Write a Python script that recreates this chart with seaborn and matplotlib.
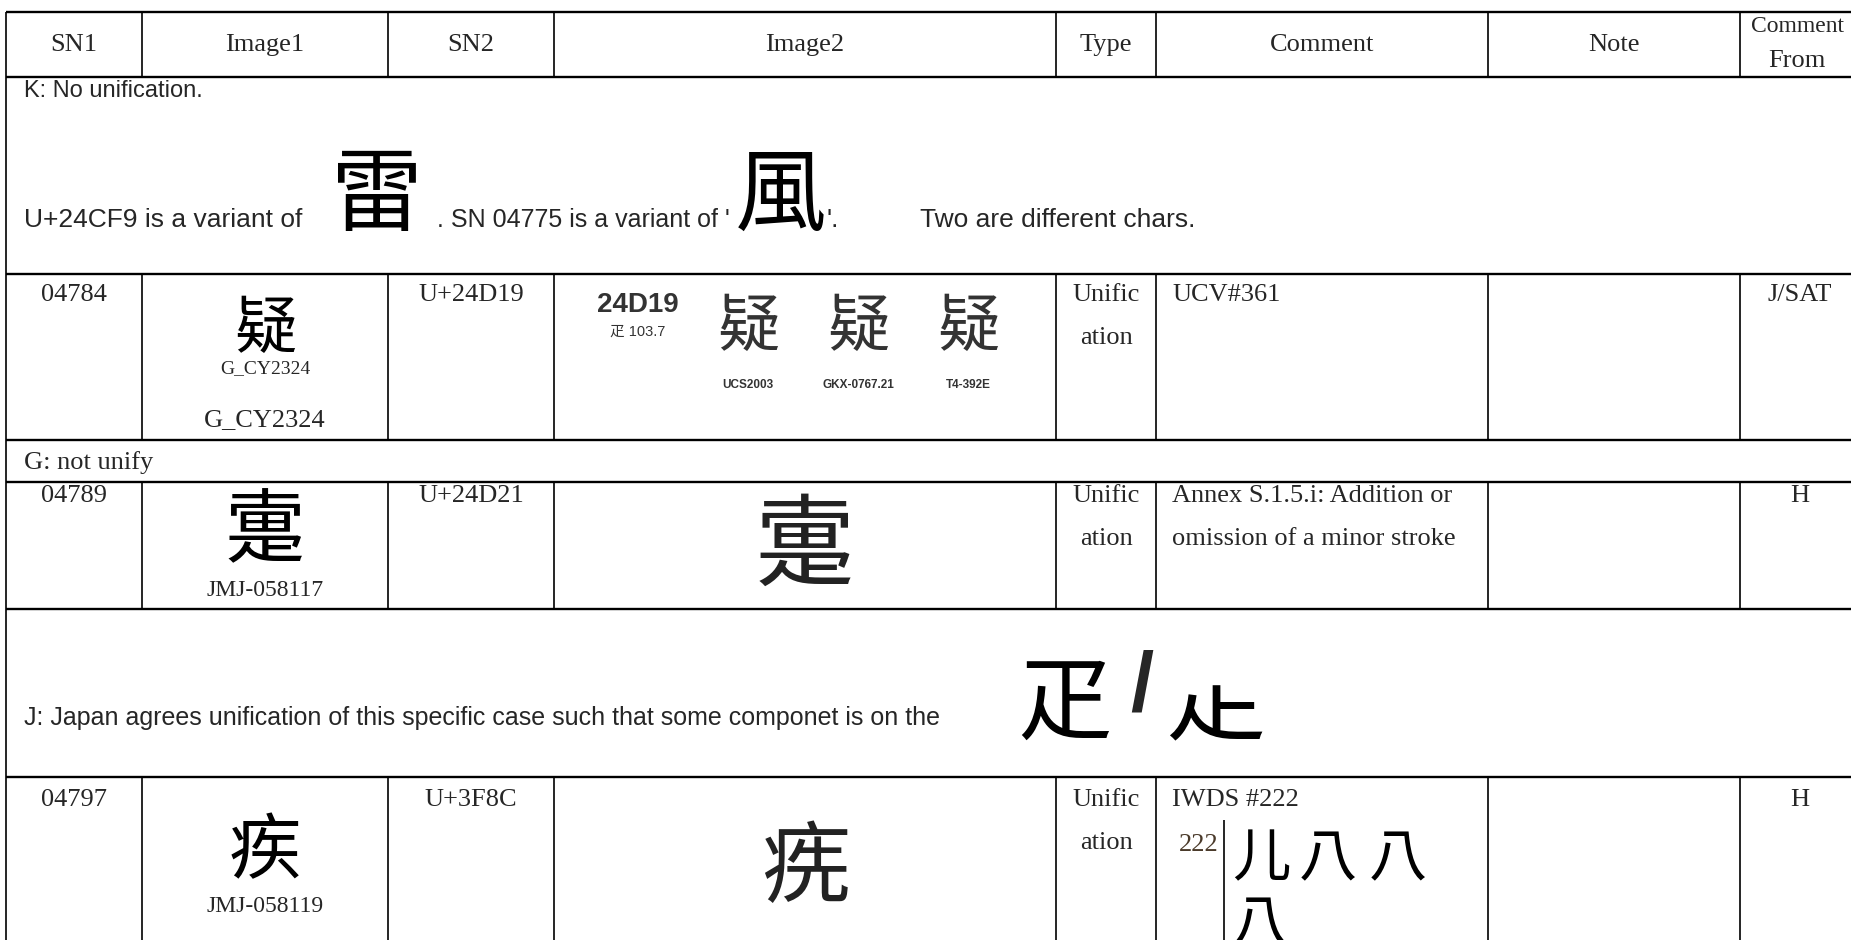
import matplotlib
matplotlib.use("Agg")
import matplotlib.pyplot as plt
import seaborn as sns
from matplotlib import font_manager, ft2font

sns.set_theme(style="white")
plt.rcParams['font.family'] = ['Liberation Serif', 'Noto Sans CJK JP', 'DejaVu Sans']

SERIF = ['Liberation Serif', 'Noto Sans CJK JP', 'DejaVu Sans']
SANS = ['Liberation Sans', 'Noto Sans CJK JP', 'DejaVu Sans']
CJK_FAMILIES = ['Noto Sans CJK TC', 'Noto Sans CJK JP', 'Noto Sans CJK SC', 'Noto Sans CJK KR']

# table content
headers = ["SN1", "Image1", "SN2", "Image2", "Type", "Comment", "Note"]
header_last = ["Comment", "From"]
sn1 = ["04784", "04789", "04797"]
sn2 = ["U+24D19", "U+24D21", "U+3F8C"]
img1_labels = ["G_CY2324", "JMJ-058117", "JMJ-058119"]
type_lines = ["Unific", "ation"]
comments = [["UCV#361"],
            ["Annex S.1.5.i: Addition or", "omission of a minor stroke"],
            ["IWDS #222"]]
comment_from = ["J/SAT", "H", "H"]
note_k = "K: No unification."
note_k2 = ["U+24CF9 is a variant of", ". SN 04775 is a variant of '", "'.", "Two are different chars."]
note_g = "G: not unify"
note_j = "J: Japan agrees unification of this specific case such that some componet is on the"
ucs_sources = ["UCS2003", "GKX-0767.21", "T4-392E"]
ucs_code = "24D19"
ucs_radical = "\u758b 103.7"
iwds_no = "222"
iwds_glyphs = ["\u513f", "\u516b", "\u516b", "\u516b"]

# layout (pixels)
col_edges = [6, 142, 388, 554, 1056, 1156, 1488, 1740]
row_edges = [12, 77, 274, 440, 482, 609, 777]
data_rows = [(12, 77), (274, 440), (482, 609), (777, 960)]


def pick(*cands):
    """first candidate char that a CJK font really has"""
    for ch in cands:
        for fam in CJK_FAMILIES:
            try:
                path = font_manager.findfont(font_manager.FontProperties(family=fam),
                                             fallback_to_default=False)
                if ord(ch) in ft2font.FT2Font(path).get_charmap():
                    return ch, fam
            except Exception:
                continue
    return cands[-1], CJK_FAMILIES[0]


g_lei = pick("\u96f7")
g_feng = pick("\u98a8")
g_24d19 = pick("\U00024D19", "\u7591")
g_zhi1 = pick("\u7590")
g_24d21 = pick("\U00024D21", "\u7590")
g_ji = pick("\u75be")
g_3f8c = pick("\u3f8c", "\u75be")
g_pi = pick("\u758b")
g_pi2 = pick("\u9fb0", "\u2eaa", "\u758b")

fig = plt.figure(figsize=(18.51, 9.40), dpi=100)
ax = fig.add_axes([0, 0, 1, 1])
ax.set_xlim(0, 1851)
ax.set_ylim(940, 0)
ax.axis("off")

# grid lines
for y in row_edges:
    ax.hlines(y, 6, 1860, color="black", lw=1.7)
ax.vlines(6, 12, 960, color="black", lw=1.2)
for top, bot in data_rows:
    for x in col_edges[1:]:
        ax.vlines(x, top, bot, color="black", lw=1.2)


def cjk(x, y, g, size, color="black"):
    ax.text(x, y, g[0], fontsize=size, family=[g[1], 'DejaVu Sans'],
            ha="center", va="center", color=color)


# header
centers = [(col_edges[i] + col_edges[i + 1]) / 2 for i in range(len(col_edges) - 1)]
for cx, h in zip(centers, headers):
    ax.text(cx, 45, h, fontsize=19, family=SERIF, ha="center", va="center")
ax.text(1797, 27, header_last[0], fontsize=17, family=SERIF, ha="center", va="center")
ax.text(1797, 61, header_last[1], fontsize=19, family=SERIF, ha="center", va="center")

# K note row
ax.text(24, 91, note_k, fontsize=17, family=SANS, ha="left", va="center")
ax.text(24, 220, note_k2[0], fontsize=19, family=SANS, ha="left", va="center")
cjk(377, 198, g_lei, 66)
ax.text(437, 220, note_k2[1], fontsize=18, family=SANS, ha="left", va="center")
cjk(781, 198, g_feng, 66)
ax.text(826, 220, note_k2[2], fontsize=19, family=SANS, ha="left", va="center")
ax.text(920, 220, note_k2[3], fontsize=19, family=SANS, ha="left", va="center")

# data rows
row_tops = [295, 496, 800]
for i, yt in enumerate(row_tops):
    ax.text(centers[0], yt, sn1[i], fontsize=19, family=SERIF, ha="center", va="center")
    ax.text(centers[2], yt, sn2[i], fontsize=19, family=SERIF, ha="center", va="center")
    ax.text(centers[4], yt, type_lines[0], fontsize=19, family=SERIF, ha="center", va="center")
    ax.text(centers[4], yt + 43, type_lines[1], fontsize=19, family=SERIF, ha="center", va="center")
    for j, line in enumerate(comments[i]):
        ax.text(1172, yt + 43 * j, line, fontsize=19, family=SERIF, ha="left", va="center")
    ax.text(1800, yt, comment_from[i], fontsize=19, family=SERIF, ha="center", va="center")

# row 04784 images
cjk(centers[1], 330, g_24d19, 45)
ax.text(centers[1], 369, img1_labels[0], fontsize=14, family=SERIF, ha="center", va="center")
ax.text(centers[1], 420, img1_labels[0], fontsize=19, family=SERIF, ha="center", va="center")
ax.text(638, 305, ucs_code, fontsize=20, family=SANS, weight="bold", color="#333333",
        ha="center", va="center")
ax.text(638, 332, ucs_radical, fontsize=10.5, family=SANS, color="#333333",
        ha="center", va="center")
for x, src in zip([748, 858, 968], ucs_sources):
    cjk(x, 328, g_24d19, 45, color="#333333")
    ax.text(x, 385, src, fontsize=8.5, family=SANS, weight="bold", color="#333333",
            ha="center", va="center")

# G note row
ax.text(24, 463, note_g, fontsize=19, family=SERIF, ha="left", va="center")

# row 04789 images
cjk(centers[1], 533, g_zhi1, 58)
ax.text(centers[1], 590, img1_labels[1], fontsize=17, family=SERIF, ha="center", va="center")
cjk(centers[3], 549, g_24d21, 72, color="#222222")

# J note row
ax.text(24, 718, note_j, fontsize=18, family=SANS, ha="left", va="center")
cjk(1064, 706, g_pi, 68)
ax.text(1142, 689, "/", fontsize=60, family=SANS, weight="bold", ha="center", va="center")
cjk(1215, 704, g_pi2, 72)

# row 04797 images
cjk(centers[1], 853, g_ji, 52)
ax.text(centers[1], 907, img1_labels[2], fontsize=17, family=SERIF, ha="center", va="center")
cjk(centers[3], 871, g_3f8c, 64, color="#222222")
ax.text(1219, 845, iwds_no, fontsize=19, family=SERIF, color="#4a3a2a", ha="right", va="center")
ax.vlines(1224, 820, 960, color="black", lw=1.2)
for x, y, ch in zip([1261, 1328, 1398, 1260], [860, 860, 860, 926], iwds_glyphs):
    cjk(x, y, (ch, 'Noto Sans CJK JP'), 42)

fig.savefig("out.png", dpi=100)
